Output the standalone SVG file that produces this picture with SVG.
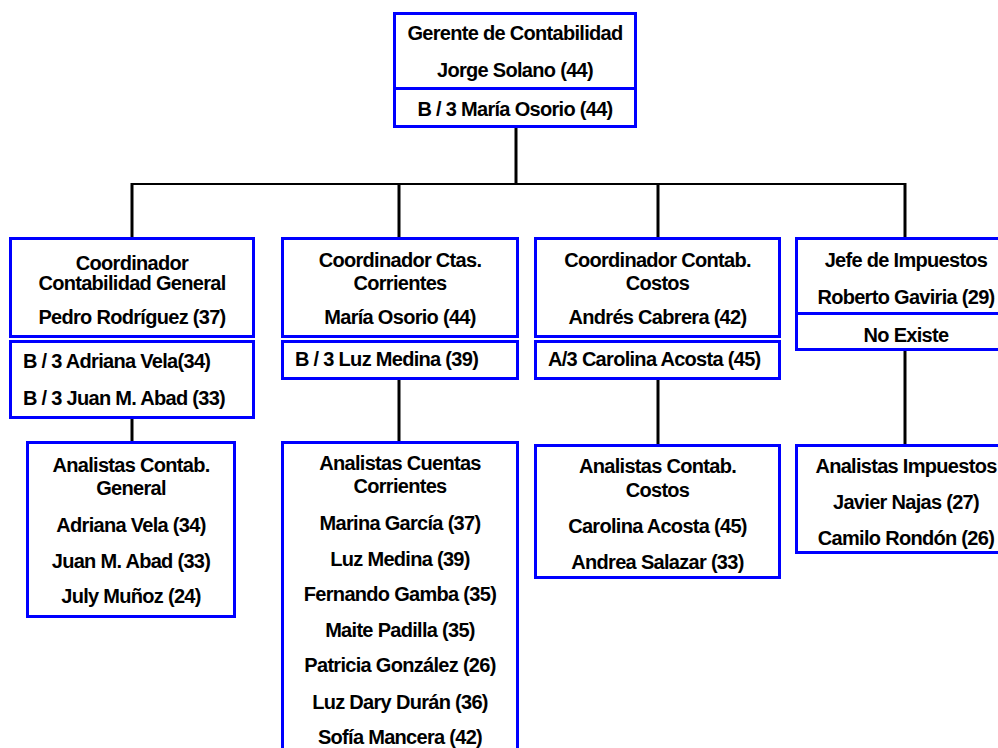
<svg xmlns="http://www.w3.org/2000/svg" width="998" height="748" viewBox="0 0 998 748">
  <style>
    .box { fill: #ffffff; stroke: #0000ff; stroke-width: 3; }
    .div { stroke: #0000ff; stroke-width: 3; }
    .link { fill: none; stroke: #000000; stroke-width: 3; }
    .bar { fill: none; stroke: #000000; stroke-width: 2; }
    text { font-family: "Liberation Sans", Arial, sans-serif; font-size: 20px; font-weight: bold; letter-spacing: -0.7px; fill: #000000; }
    .c { text-anchor: middle; }
    .l { text-anchor: start; }
  </style>
  <rect width="998" height="748" fill="#ffffff"/>

  <!-- connectors -->
  <g id="connectors">
    <line class="link" x1="516" y1="127" x2="516" y2="184"/>
    <line class="bar" x1="131" y1="184" x2="906" y2="184"/>
    <line class="link" x1="132" y1="183" x2="132" y2="238"/>
    <line class="link" x1="399" y1="183" x2="399" y2="238"/>
    <line class="link" x1="658" y1="183" x2="658" y2="238"/>
    <line class="link" x1="905" y1="183" x2="905" y2="238"/>
    <line class="link" x1="132" y1="418" x2="132" y2="442"/>
    <line class="link" x1="399" y1="379" x2="399" y2="442"/>
    <line class="link" x1="658" y1="379" x2="658" y2="445"/>
    <line class="link" x1="905" y1="350" x2="905" y2="445"/>
  </g>

  <!-- head of accounting -->
  <g id="gerente">
    <rect class="box" x="394.5" y="13.5" width="241" height="113"/>
    <line class="div" x1="394.5" y1="88.5" x2="635.5" y2="88.5"/>
    <text class="c" x="515" y="40">Gerente de Contabilidad</text>
    <text class="c" x="515" y="77">Jorge Solano  (44)</text>
    <text class="c" x="515" y="116">B / 3 María Osorio (44)</text>
  </g>

  <!-- general accounting -->
  <g id="coord-general">
    <rect class="box" x="10.5" y="238.5" width="243" height="98"/>
    <text class="c" x="132" y="270">Coordinador</text>
    <text class="c" x="132" y="290">Contabilidad General</text>
    <text class="c" x="132" y="324">Pedro Rodríguez (37)</text>
    <rect class="box" x="10.5" y="341.5" width="243" height="76"/>
    <text class="l" x="23" y="368">B / 3 Adriana Vela(34)</text>
    <text class="l" x="23" y="405">B / 3 Juan M. Abad (33)</text>
  </g>

  <!-- current accounts -->
  <g id="coord-ctas">
    <rect class="box" x="282.5" y="238.5" width="235" height="98"/>
    <text class="c" x="400" y="267">Coordinador Ctas.</text>
    <text class="c" x="400" y="290">Corrientes</text>
    <text class="c" x="400" y="324">María Osorio (44)</text>
    <rect class="box" x="282.5" y="341.5" width="235" height="37"/>
    <text class="l" x="295" y="366">B / 3 Luz Medina (39)</text>
  </g>

  <!-- cost accounting -->
  <g id="coord-costos">
    <rect class="box" x="535.5" y="238.5" width="244" height="98"/>
    <text class="c" x="657.5" y="267">Coordinador Contab.</text>
    <text class="c" x="657.5" y="290">Costos</text>
    <text class="c" x="657.5" y="324">Andrés Cabrera  (42)</text>
    <rect class="box" x="535.5" y="341.5" width="244" height="37"/>
    <text class="l" x="548" y="366">A/3 Carolina Acosta (45)</text>
  </g>

  <!-- taxes -->
  <g id="jefe-impuestos">
    <rect class="box" x="796.5" y="238.5" width="222" height="111"/>
    <line class="div" x1="796.5" y1="313.5" x2="1018.5" y2="313.5"/>
    <text class="c" x="906" y="267">Jefe de Impuestos</text>
    <text class="c" x="906" y="304">Roberto Gaviria  (29)</text>
    <text class="c" x="906" y="342">No Existe</text>
  </g>

  <!-- analyst teams -->
  <g id="analistas-general">
    <rect class="box" x="27.5" y="442.5" width="207" height="174"/>
    <text class="c" x="131" y="472">Analistas Contab.</text>
    <text class="c" x="131" y="495">General</text>
    <text class="c" x="131" y="532">Adriana Vela  (34)</text>
    <text class="c" x="131" y="568">Juan M. Abad (33)</text>
    <text class="c" x="131" y="603">July Muñoz  (24)</text>
  </g>

  <g id="analistas-ctas">
    <rect class="box" x="282.5" y="442.5" width="235" height="320"/>
    <text class="c" x="400" y="470">Analistas Cuentas</text>
    <text class="c" x="400" y="493">Corrientes</text>
    <text class="c" x="400" y="530">Marina García  (37)</text>
    <text class="c" x="400" y="566">Luz Medina  (39)</text>
    <text class="c" x="400" y="601">Fernando Gamba (35)</text>
    <text class="c" x="400" y="637">Maite Padilla (35)</text>
    <text class="c" x="400" y="672">Patricia González  (26)</text>
    <text class="c" x="400" y="709">Luz Dary Durán (36)</text>
    <text class="c" x="400" y="744">Sofía Mancera (42)</text>
  </g>

  <g id="analistas-costos">
    <rect class="box" x="535.5" y="445.5" width="244" height="132"/>
    <text class="c" x="657.5" y="473">Analistas Contab.</text>
    <text class="c" x="657.5" y="497">Costos</text>
    <text class="c" x="657.5" y="533">Carolina Acosta (45)</text>
    <text class="c" x="657.5" y="569">Andrea Salazar (33)</text>
  </g>

  <g id="analistas-impuestos">
    <rect class="box" x="796.5" y="445.5" width="222" height="107"/>
    <text class="c" x="906" y="473">Analistas Impuestos</text>
    <text class="c" x="906" y="509">Javier Najas (27)</text>
    <text class="c" x="906" y="545">Camilo Rondón (26)</text>
  </g>
</svg>
